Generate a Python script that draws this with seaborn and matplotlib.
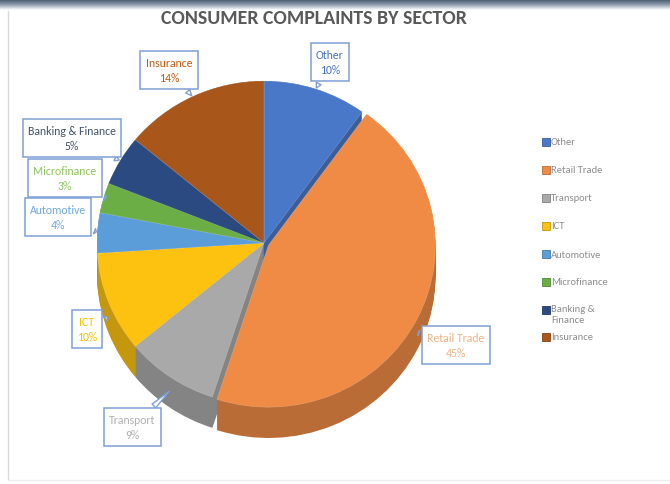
import numpy as np
import matplotlib
matplotlib.use("Agg")
import matplotlib.pyplot as plt
import matplotlib.colors as mcolors
import seaborn as sns

# ---- data -------------------------------------------------------------
sectors = ["Other", "Retail Trade", "Transport", "ICT", "Automotive",
           "Microfinance", "Banking & Finance", "Insurance"]
shares = [10, 45, 9, 10, 4, 3, 5, 14]
legend_labels = ["Other", "Retail Trade", "Transport", "ICT", "Automotive",
                 "Microfinance", "Banking &\nFinance", "Insurance"]
title = "CONSUMER COMPLAINTS BY SECTOR"

# ---- style ------------------------------------------------------------
sns.set_theme(style="white")
plt.rcParams["font.family"] = ["Carlito", "DejaVu Sans"]

slice_colors = ["#4A78C8", "#EF8B45", "#A9A9A9", "#FDC10F", "#5A9DD8",
                "#6AAE45", "#2B4A82", "#A9561B"]
text_colors = ["#4472C4", "#F4B183", "#B0B0B0", "#FFC000", "#6FA8DC",
               "#8DC65A", "#44546A", "#C55A11"]
explode = [0, 0.03, 0, 0, 0, 0, 0, 0]
border = "#7F9FD6"

W, H = 670, 485
fig = plt.figure(figsize=(W / 100, H / 100), dpi=100)
fig.patch.set_facecolor("white")

# overlay in pixel units for title, callouts and legend
ov = fig.add_axes([0, 0, 1, 1], zorder=3)
ov.set_xlim(0, W)
ov.set_ylim(H, 0)
ov.axis("off")
ov.patch.set_alpha(0)

# top gradient band and thin frame line
band = np.linspace(0, 1, 30)[:, None] * np.ones((1, 10))
band_cmap = mcolors.LinearSegmentedColormap.from_list(
    "band", ["#3E5468", "#8C9BAA", "#FFFFFF"])
bg = fig.add_axes([0, 0, 1, 1], zorder=0)
bg.set_xlim(0, W)
bg.set_ylim(H, 0)
bg.axis("off")
bg.imshow(band, cmap=band_cmap, extent=[0, W, 11, 0], aspect="auto")
bg.plot([8, 8], [12, 481], color="#D9D9D9", lw=1)
bg.plot([8, W], [481, 481], color="#EEEEEE", lw=1)

ov.text(314, 18, title, ha="center", va="center", fontsize=14.3,
        fontweight="bold", color="#595959")

# ---- pie with depth ----------------------------------------------------
cx, cy, rx, ry = 264, 244, 167, 162
xl, xr, yt, yb = -1.25, 1.25, 1.25, -1.45
left_px, right_px = cx + xl * rx, cx + xr * rx
top_px, bot_px = cy - yt * ry, cy - yb * ry
ax = fig.add_axes([left_px / W, (H - bot_px) / H,
                   (right_px - left_px) / W, (bot_px - top_px) / H], zorder=1)

side_colors = [tuple(np.array(mcolors.to_rgb(c)) * 0.78) for c in slice_colors]
depth = 0.19
n_layers = 24
for k in range(n_layers):
    off = -depth * (1 - k / (n_layers - 1))
    ax.pie(shares, colors=side_colors, startangle=90, counterclock=False,
           explode=explode, center=(0, off), radius=1,
           wedgeprops=dict(linewidth=0))
ax.pie(shares, colors=slice_colors, startangle=90, counterclock=False,
       explode=explode, center=(0, 0), radius=1,
       wedgeprops=dict(linewidth=0.4, edgecolor=(1, 1, 1, 0.25)))
ax.set_aspect("auto")
ax.set_xlim(xl, xr)
ax.set_ylim(yb, yt)
ax.axis("off")

# ---- callouts ---------------------------------------------------------
box_centers = {
    "Other": (330, 63), "Retail Trade": (456, 346), "Transport": (132, 428),
    "ICT": (87, 330), "Automotive": (58, 218), "Microfinance": (65, 179),
    "Banking & Finance": (72, 139), "Insurance": (169, 71),
}
cum = np.cumsum([0] + shares[:-1])
total = sum(shares)
for i, (name, val) in enumerate(zip(sectors, shares)):
    theta = np.deg2rad(360 * (cum[i] + val / 2) / total)
    ex = explode[i]
    r = 0.99
    px, py = np.sin(theta) * (r + ex), np.cos(theta) * (r + ex)
    if np.cos(theta) < -0.2:
        py -= depth * 0.45
    ax.annotate(f"{name}\n{val}%", xy=(px, py), xycoords="data",
                xytext=box_centers[name], textcoords=ov.transData,
                ha="center", va="center", fontsize=8.5, color=text_colors[i],
                linespacing=1.5, zorder=5,
                bbox=dict(boxstyle="square,pad=0.45", fc="white", ec=border,
                          lw=1.1),
                arrowprops=dict(arrowstyle="wedge,tail_width=0.45,shrink_factor=0.5",
                                fc="white", ec=border, lw=1.0))

# ---- legend -----------------------------------------------------------
leg_y = [143, 171, 199, 227, 255, 283, 311, 338]
for i, lab in enumerate(legend_labels):
    y = leg_y[i]
    ov.scatter([546], [y], marker="s", s=34, color=slice_colors[i],
               edgecolor=side_colors[i], linewidth=0.6)
    if "\n" in lab:
        ov.text(551, y - 6, lab, ha="left", va="top", fontsize=7.6,
                color="#8C8C8C", linespacing=1.25)
    else:
        ov.text(551, y, lab, ha="left", va="center", fontsize=7.6,
                color="#8C8C8C")

fig.savefig("out.png", dpi=100, facecolor="white")
